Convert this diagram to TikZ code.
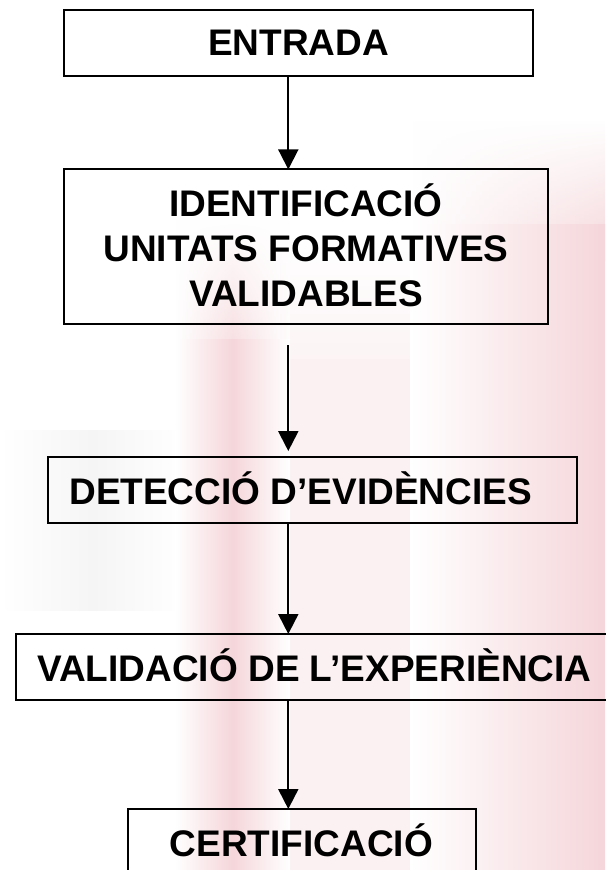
\documentclass[tikz,border=0pt]{standalone}
\usepackage{fontspec}
\setmainfont{Liberation Sans}
\usetikzlibrary{arrows.meta,shadings,fadings}
\definecolor{wm}{RGB}{245,214,218}
\definecolor{wmg}{RGB}{245,245,245}
\begin{document}
\begin{tikzpicture}[x=1pt,y=-1pt,
  boxnode/.style={draw=black,line width=2pt,inner sep=0pt,outer sep=0pt,rectangle},
  txt/.style={inner sep=0pt,outer sep=0pt,text=black,font=\fontsize{37}{45}\selectfont\bfseries},
  flow/.style={line width=2pt,-{Triangle[width=20pt,length=20pt]}}]
\useasboundingbox (0,0) rectangle (605,870);
\fill[white] (0,0) rectangle (605,870);
% faint watermark
\shade[left color=white,right color=white,middle color=wmg] (0,430) rectangle (185,610);
\fill[wm!35,path fading=north] (280,240) rectangle (420,400);
\fill[wm!35] (280,359) rectangle (420,870);
\shade[left color=white,right color=white,middle color=wm,path fading=north] (175,220) rectangle (290,380);
\shade[left color=white,right color=white,middle color=wm] (175,339) rectangle (290,870);
\shade[left color=white,right color=wm,path fading=north] (410,120) rectangle (605,260);
\shade[left color=white,right color=wm] (410,224) rectangle (605,870);
% boxes
\node[boxnode,minimum width=469pt,minimum height=66pt] (b1) at (298.5,42.5) {};
\node[boxnode,minimum width=484.5pt,minimum height=155pt] (b2) at (305.75,246.9) {};
\node[boxnode,minimum width=529.6pt,minimum height=66.3pt] (b3) at (312.5,490.2) {};
\node[boxnode,minimum width=601.3pt,minimum height=65.5pt] (b4) at (316.35,666.75) {};
\node[boxnode,minimum width=348.3pt,minimum height=66pt] (b5) at (301.85,842) {};
% texts
\node[txt,anchor=base] (t1) at (298.5,55.75) {ENTRADA};
\node[txt,anchor=base] (t2a) at (306,216.5) {IDENTIFICACIÓ};
\node[txt,anchor=base] (t2b) at (306,261.5) {UNITATS FORMATIVES};
\node[txt,anchor=base] (t2c) at (306,306.5) {VALIDABLES};
\node[txt,anchor=base west] (t3) at (69.3,504) {DETECCIÓ D’EVIDÈNCIES};
\node[txt,anchor=base west] (t4) at (37.3,681.7) {VALIDACIÓ DE L’EXPERIÈNCIA};
\node[txt,anchor=base] (t5) at (301.4,856.7) {CERTIFICACIÓ};
% connectors
\coordinate (ax) at (288.3,0);
\coordinate (s2) at (288.3,345);
\draw[flow] (b1.south -| ax) -- (b2.north -| ax);
\draw[flow,shorten >=6pt] (s2) -- (b3.north -| ax);
\draw[flow] (b3.south -| ax) -- (b4.north -| ax);
\draw[flow] (b4.south -| ax) -- (b5.north -| ax);
\end{tikzpicture}
\end{document}
